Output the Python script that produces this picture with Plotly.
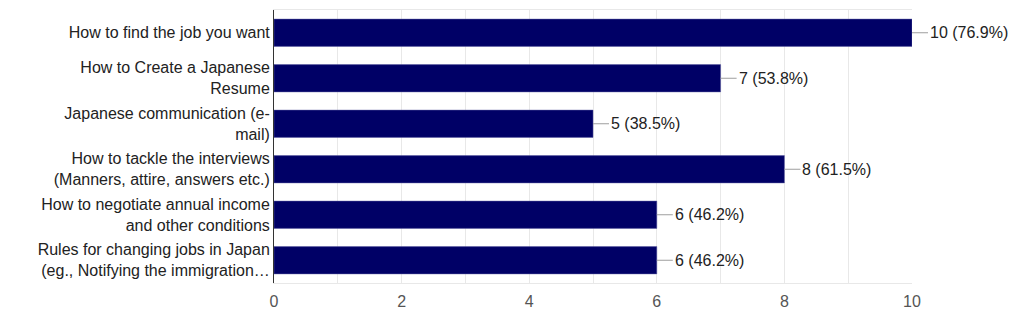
import plotly.graph_objects as go

categories = [
    "How to find the job you want",
    "How to Create a Japanese<br>Resume",
    "Japanese communication (e-<br>mail)",
    "How to tackle the interviews<br>(Manners, attire, answers etc.)",
    "How to negotiate annual income<br>and other conditions",
    "Rules for changing jobs in Japan<br>(eg., Notifying the immigration…",
]
counts = [10, 7, 5, 8, 6, 6]
percents = ["76.9%", "53.8%", "38.5%", "61.5%", "46.2%", "46.2%"]
x_ticks = [0, 2, 4, 6, 8, 10]

BAR = "#000066"
GRID = "#e8e8e8"
FONT = "Liberation Sans, Arial, sans-serif"

fig = go.Figure()
fig.add_trace(go.Bar(
    x=counts, y=categories, orientation="h",
    marker=dict(color=BAR, line=dict(color="#5a5aa0", width=0.5)),
    hoverinfo="skip",
))

for c, y, p in zip(counts, categories, percents):
    fig.add_annotation(
        x=c, y=y, xref="x", yref="y",
        text=f"{c} ({p})", showarrow=True, arrowhead=0, arrowwidth=1,
        arrowcolor="#9e9e9e", ax=16, ay=0, xanchor="left",
        font=dict(family=FONT, size=16, color="#222222"),
    )

fig.update_layout(
    width=1024, height=326,
    margin=dict(l=274, r=112, t=10, b=43),
    paper_bgcolor="white", plot_bgcolor="white",
    showlegend=False, bargap=0.4,
    font=dict(family=FONT, size=16, color="#222222"),
)
fig.update_xaxes(
    range=[0, 10], tickvals=x_ticks, ticktext=[str(v) for v in x_ticks],
    showgrid=True, gridcolor=GRID, gridwidth=1,
    minor=dict(dtick=1, showgrid=True, gridcolor=GRID, gridwidth=1),
    zeroline=False, showline=True, linecolor=GRID, mirror=True,
    tickfont=dict(family=FONT, size=16, color="#555555"),
    ticks="", ticklabelstandoff=4,
)
fig.update_yaxes(
    autorange="reversed", showgrid=False, zeroline=False,
    showline=True, linecolor="#333333", linewidth=1,
    ticks="", ticklabelstandoff=0,
    tickfont=dict(family=FONT, size=16, color="#222222"),
)

fig.write_html("out.html")
